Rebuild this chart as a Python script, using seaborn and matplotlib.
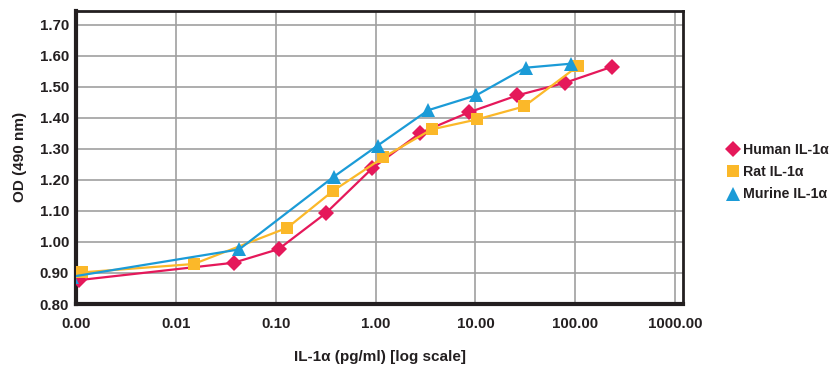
import matplotlib
matplotlib.use("Agg")
import matplotlib.pyplot as plt
import seaborn as sns
import pandas as pd
from matplotlib.lines import Line2D
from matplotlib.ticker import FixedLocator, FuncFormatter, NullLocator

# ---- data ----
human_x = [0.00107, 0.0379, 0.107, 0.318, 0.93, 2.81, 8.6, 26.4, 78.5, 233]
human_y = [0.877, 0.933, 0.977, 1.093, 1.238, 1.352, 1.418, 1.473, 1.513, 1.565]

rat_x = [0.00115, 0.0151, 0.131, 0.376, 1.2, 3.64, 10.3, 30.7, 107]
rat_y = [0.902, 0.929, 1.046, 1.165, 1.273, 1.363, 1.395, 1.437, 1.568]

murine_x = [0.00091, 0.043, 0.38, 1.05, 3.37, 10.2, 31.8, 90.7]
murine_y = [0.888, 0.976, 1.21, 1.311, 1.425, 1.473, 1.562, 1.575]

series_names = ["Human IL-1α", "Rat IL-1α", "Murine IL-1α"]
series_colors = ["#E5185A", "#FBB829", "#1B9BD7"]
series_markers = ["D", "s", "^"]
marker_sizes = [8, 9, 10.5]

x_ticks = [0.001, 0.01, 0.1, 1, 10, 100, 1000]
y_ticks = [0.80, 0.90, 1.00, 1.10, 1.20, 1.30, 1.40, 1.50, 1.60, 1.70]

frames = []
for name, xs, ys in zip(series_names, [human_x, rat_x, murine_x],
                        [human_y, rat_y, murine_y]):
    frames.append(pd.DataFrame({"conc": xs, "od": ys, "series": name}))
df = pd.concat(frames, ignore_index=True)

sns.set_theme(style="white")
plt.rcParams["font.family"] = ["Liberation Sans", "DejaVu Sans"]

fig = plt.figure(figsize=(8.35, 3.67), dpi=100)
ax = fig.add_axes([76 / 835, 1 - 304 / 367, (683 - 76) / 835, (304 - 10.5) / 367])

for name, color, mk, ms in zip(series_names, series_colors, series_markers, marker_sizes):
    sub = df[df["series"] == name]
    sns.lineplot(data=sub, x="conc", y="od", ax=ax, color=color, marker=mk,
                 markersize=ms, markeredgewidth=0, linewidth=1.6, sort=False,
                 legend=False, zorder=3)

ax.set_xscale("log")
ax.set_xlim(0.001, 1200)
ax.set_ylim(0.80, 1.7465)

ax.xaxis.set_major_locator(FixedLocator(x_ticks))
ax.xaxis.set_minor_locator(NullLocator())
ax.xaxis.set_major_formatter(FuncFormatter(lambda v, p: f"{v:.2f}"))
ax.yaxis.set_major_locator(FixedLocator(y_ticks))
ax.yaxis.set_major_formatter(FuncFormatter(lambda v, p: f"{v:.2f}"))

ax.grid(True, which="major", color="#a0a0a0", linewidth=1.2)
ax.set_axisbelow(True)

for side in ["left", "bottom"]:
    ax.spines[side].set_linewidth(3.0)
    ax.spines[side].set_color("#231f20")
for side in ["top", "right"]:
    ax.spines[side].set_linewidth(2.0)
    ax.spines[side].set_color("#231f20")

ax.tick_params(axis="both", length=0, labelsize=10.8, colors="#231f20")
ax.tick_params(axis="y", pad=5)
ax.tick_params(axis="x", pad=9)
for lbl in ax.get_xticklabels() + ax.get_yticklabels():
    lbl.set_fontweight("bold")

ax.set_xlabel("IL-1α (pg/ml) [log scale]", fontsize=11, fontweight="bold",
              color="#231f20", labelpad=14)
ax.set_ylabel("OD (490 nm)", fontsize=11, fontweight="bold",
              color="#231f20", labelpad=9)

handles = [Line2D([], [], linestyle="none", marker=mk, color=c, markersize=ms,
                  markeredgewidth=0)
           for mk, c, ms in zip(series_markers, series_colors, marker_sizes)]
leg = fig.legend(handles, series_names, loc="center left",
                 bbox_to_anchor=(717 / 835, 1 - 172 / 367), frameon=False,
                 handlelength=0.9, handletextpad=0.25, labelspacing=0.6,
                 borderpad=0.2, prop={"weight": "bold", "size": 10.2})
for t in leg.get_texts():
    t.set_color("#231f20")

fig.savefig("out.png", dpi=100)
